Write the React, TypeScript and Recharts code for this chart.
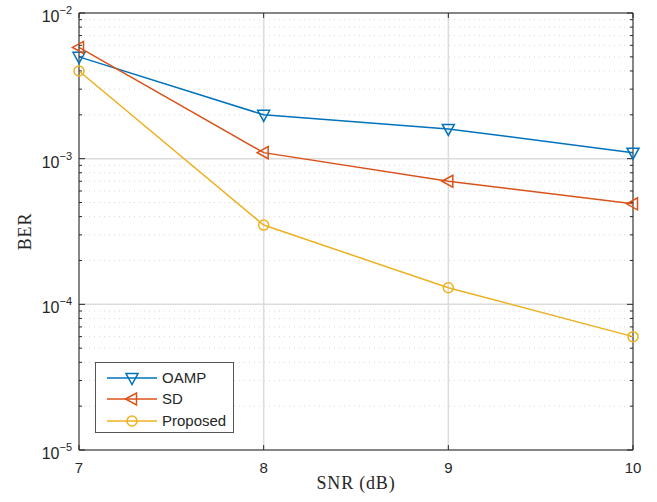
import React from 'react';
import {
  LineChart,
  Line,
  XAxis,
  YAxis,
  CartesianGrid,
  ReferenceLine,
} from 'recharts';

const snr = [7, 8, 9, 10];
const oamp = [5.0e-3, 2.0e-3, 1.6e-3, 1.1e-3];
const sd = [5.8e-3, 1.1e-3, 7.0e-4, 4.9e-4];
const proposed = [4.0e-3, 3.5e-4, 1.3e-4, 6.0e-5];

const xTicks = [7, 8, 9, 10];
const yMajorTicks = [1e-5, 1e-4, 1e-3, 1e-2];
const yMinorTicks = [
  2e-5, 3e-5, 4e-5, 5e-5, 6e-5, 7e-5, 8e-5, 9e-5,
  2e-4, 3e-4, 4e-4, 5e-4, 6e-4, 7e-4, 8e-4, 9e-4,
  2e-3, 3e-3, 4e-3, 5e-3, 6e-3, 7e-3, 8e-3, 9e-3,
];

const data = snr.map((s, i) => ({
  snr: s,
  oamp: oamp[i],
  sd: sd[i],
  proposed: proposed[i],
}));

const AXIS = '#262626';
const SANS = '"Liberation Sans", Arial, sans-serif';
const SERIF = '"Liberation Serif", "Times New Roman", serif';

type Shape = 'down' | 'left' | 'circle';

const series: { key: string; name: string; color: string; shape: Shape }[] = [
  { key: 'oamp', name: 'OAMP', color: '#0072BD', shape: 'down' },
  { key: 'sd', name: 'SD', color: '#D95319', shape: 'left' },
  { key: 'proposed', name: 'Proposed', color: '#EDB120', shape: 'circle' },
];

const Marker = ({ cx, cy, color, shape }: { cx: number; cy: number; color: string; shape: Shape }) => {
  if (cx == null || cy == null) return null;
  if (shape === 'down') {
    return (
      <polygon
        points={`${cx - 6},${cy - 4.5} ${cx + 6},${cy - 4.5} ${cx},${cy + 6.5}`}
        fill="none"
        stroke={color}
        strokeWidth={1.5}
      />
    );
  }
  if (shape === 'left') {
    return (
      <polygon
        points={`${cx - 6.5},${cy} ${cx + 4.5},${cy - 6} ${cx + 4.5},${cy + 6}`}
        fill="none"
        stroke={color}
        strokeWidth={1.5}
      />
    );
  }
  return <circle cx={cx} cy={cy} r={5} fill="none" stroke={color} strokeWidth={1.5} />;
};

// horizontal reference line drawn only as short inward ticks at both box edges
const hTicks = (len: number, dotted: boolean) => (p: any) => (
  <g>
    {dotted && (
      <line x1={p.x1} y1={p.y1} x2={p.x2} y2={p.y2} stroke="#d8d8d8" strokeWidth={1} strokeDasharray="1 4" />
    )}
    <line x1={p.x1} y1={p.y1} x2={p.x1 + len} y2={p.y1} stroke={AXIS} strokeWidth={1} />
    <line x1={p.x2 - len} y1={p.y2} x2={p.x2} y2={p.y2} stroke={AXIS} strokeWidth={1} />
  </g>
);

// vertical version: ticks at top and bottom edges
const vTicks = (len: number) => (p: any) => {
  const top = Math.min(p.y1, p.y2);
  const bottom = Math.max(p.y1, p.y2);
  return (
    <g>
      <line x1={p.x1} y1={top} x2={p.x1} y2={top + len} stroke={AXIS} strokeWidth={1} />
      <line x1={p.x1} y1={bottom - len} x2={p.x1} y2={bottom} stroke={AXIS} strokeWidth={1} />
    </g>
  );
};

const YTick = ({ x, y, payload }: any) => {
  const exp = Math.round(Math.log10(payload.value));
  return (
    <text x={x} y={y + 9} textAnchor="end" fontFamily={SANS} fontSize={16} fill={AXIS}>
      10
      <tspan dy={-8} fontSize={11}>
        {'\u2212' + Math.abs(exp)}
      </tspan>
    </text>
  );
};

const XTick = ({ x, y, payload }: any) => (
  <text x={x} y={y + 13} textAnchor="middle" fontFamily={SANS} fontSize={15} fill={AXIS}>
    {payload.value}
  </text>
);

const LegendBox = () => (
  <div
    style={{
      position: 'absolute',
      left: 95,
      top: 362,
      width: 137,
      height: 69,
      border: '1px solid #555',
      background: '#fff',
      boxSizing: 'content-box',
    }}
  >
    {series.map((s) => (
      <div key={s.key} style={{ height: 21.5, display: 'flex', alignItems: 'center', marginTop: s.key === 'oamp' ? 4 : 0 }}>
        <svg width={66} height={16} style={{ display: 'block' }}>
          <line x1={11} y1={8} x2={61} y2={8} stroke={s.color} strokeWidth={1.5} />
          <Marker cx={36} cy={8} color={s.color} shape={s.shape} />
        </svg>
        <span style={{ fontFamily: SANS, fontSize: 15, color: AXIS, lineHeight: '16px' }}>{s.name}</span>
      </div>
    ))}
  </div>
);

export default function App() {
  return (
    <div style={{ position: 'absolute', left: 0, top: 0, width: 657, height: 502, background: '#fff' }}>
      <LineChart width={657} height={502} data={data} margin={{ top: 13, right: 24, left: 19, bottom: 22 }}>
        <CartesianGrid stroke="#dcdcdc" strokeWidth={1.5} />
        {yMinorTicks.map((v) => (
          <ReferenceLine key={`mn-${v}`} y={v} shape={hTicks(3, true)} />
        ))}
        {yMajorTicks.map((v) => (
          <ReferenceLine key={`mj-${v}`} y={v} shape={hTicks(6, false)} />
        ))}
        {xTicks.map((v) => (
          <ReferenceLine key={`xt-${v}`} x={v} shape={vTicks(5)} />
        ))}
        <ReferenceLine y={1e-2} stroke={AXIS} strokeWidth={1} />
        <ReferenceLine x={10} stroke={AXIS} strokeWidth={1} />
        <XAxis
          dataKey="snr"
          type="number"
          domain={[7, 10]}
          ticks={xTicks}
          interval={0}
          tickLine={false}
          tickSize={0}
          tickMargin={10}
          tick={<XTick />}
          axisLine={{ stroke: AXIS }}
          height={30}
          label={{
            value: 'SNR (dB)',
            position: 'insideBottom',
            offset: -9,
            style: { fontFamily: SERIF, fontSize: 18, fill: AXIS, letterSpacing: 0.8 },
          }}
        />
        <YAxis
          type="number"
          scale="log"
          domain={[1e-5, 1e-2]}
          allowDataOverflow
          ticks={yMajorTicks}
          interval={0}
          tickLine={false}
          tickSize={0}
          tickMargin={7}
          tick={<YTick />}
          axisLine={{ stroke: AXIS }}
          width={60}
          label={{
            value: 'BER',
            angle: -90,
            position: 'insideLeft',
            offset: 6,
            style: { fontFamily: SERIF, fontSize: 18, fill: AXIS, textAnchor: 'middle', letterSpacing: 0.8 },
          }}
        />
        {series.map((s) => (
          <Line
            key={s.key}
            dataKey={s.key}
            name={s.name}
            stroke={s.color}
            strokeWidth={1.5}
            isAnimationActive={false}
            dot={(p: any) => <Marker key={`${s.key}-${p.index}`} cx={p.cx} cy={p.cy} color={s.color} shape={s.shape} />}
            activeDot={false}
          />
        ))}
      </LineChart>
      <LegendBox />
    </div>
  );
}
